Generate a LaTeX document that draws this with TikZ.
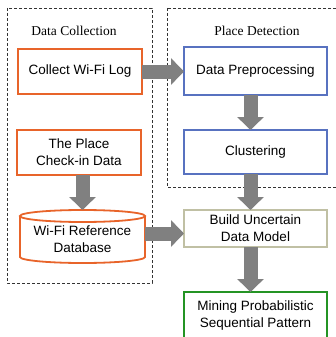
\documentclass[tikz,border=0pt]{standalone}
\usepackage{fontspec}
\setmainfont{Liberation Sans}
\newfontfamily\titlefont{Liberation Serif}
\usetikzlibrary{positioning, arrows.meta, calc}
\definecolor{collectorange}{RGB}{232,100,42}
\definecolor{detectblue}{RGB}{88,114,192}
\definecolor{modeltan}{RGB}{192,192,164}
\definecolor{minegreen}{RGB}{36,148,36}
\definecolor{arrowgray}{RGB}{128,128,128}
\tikzset{
	x=1pt, y=-1pt,
	node distance=35pt,
	every node/.style={font=\fontsize{13.5}{17}\selectfont, align=center, outer sep=0pt},
	stagebox/.style={draw, line width=1.5pt, minimum width=143pt, minimum height=45pt, inner sep=2pt},
	collectbox/.style={stagebox, draw=collectorange, line width=1.8pt, minimum width=124pt},
	detectbox/.style={stagebox, draw=detectblue},
	groupframe/.style={densely dashed, line width=0.7pt, draw=black!80},
	grouptitle/.style={font=\titlefont\fontsize{13.5}{16}\selectfont},
	bigarrow/.style={draw=arrowgray, line width=14pt, -{Triangle[length=13pt, width=26pt]}},
}
\begin{document}
\begin{tikzpicture}
	\useasboundingbox (0,0) rectangle (335,337);
	\draw[groupframe] (7,8) rectangle (152,283);
	\draw[groupframe] (167,8) rectangle (345,187);
	\node[grouptitle] (dctitle) at (74,31) {Data Collection};
	\node[grouptitle] (pdtitle) at (257,31) {Place Detection};

	\node[collectbox] (collect) at (80,71.5) {Collect Wi-Fi Log};
	\node[collectbox, below=36pt of collect, xshift=-1pt] (checkin) {The Place\\Check-in Data};
	\node[minimum width=125pt, minimum height=47pt, below=41pt of checkin, xshift=3.5pt] (refdb) {Wi-Fi Reference\\Database};
	\draw[draw=collectorange, line width=1.8pt] (refdb.north) ellipse[x radius=62.5pt, y radius=6pt];
	\draw[draw=collectorange, line width=1.8pt] (refdb.north west) -- ([yshift=6pt]refdb.south west)
		arc[start angle=180, end angle=360, x radius=62.5pt, y radius=6pt] -- (refdb.north east);

	\node[detectbox, minimum height=48pt] (preproc) at (255.5,71) {Data Preprocessing};
	\node[detectbox, minimum height=44pt, below=of preproc] (cluster) {Clustering};
	\node[stagebox, draw=modeltan, minimum height=37pt, below=36pt of cluster] (build) {Build Uncertain\\Data Model};
	\node[stagebox, draw=minegreen, minimum height=48pt, below=45pt of build] (mining) {Mining Probabilistic\\Sequential Pattern};

	\coordinate (dbin) at ([yshift=6pt]refdb.north);
	\coordinate (dbout) at ([yshift=-5pt]build.west);
	\draw[bigarrow] (collect.east) -- (collect.east -| preproc.west);
	\draw[bigarrow] (checkin.south -| refdb.north) -- (dbin);
	\draw[bigarrow] ([xshift=-5pt]preproc.south) -- ([xshift=-5pt]cluster.north);
	\draw[bigarrow] ([xshift=-5pt]cluster.south) -- ([xshift=-5pt]build.north);
	\draw[bigarrow] (refdb.east |- dbout) -- (dbout);
	\draw[bigarrow] ([xshift=-5pt]build.south) -- ([xshift=-5pt]mining.north);
\end{tikzpicture}
\end{document}
